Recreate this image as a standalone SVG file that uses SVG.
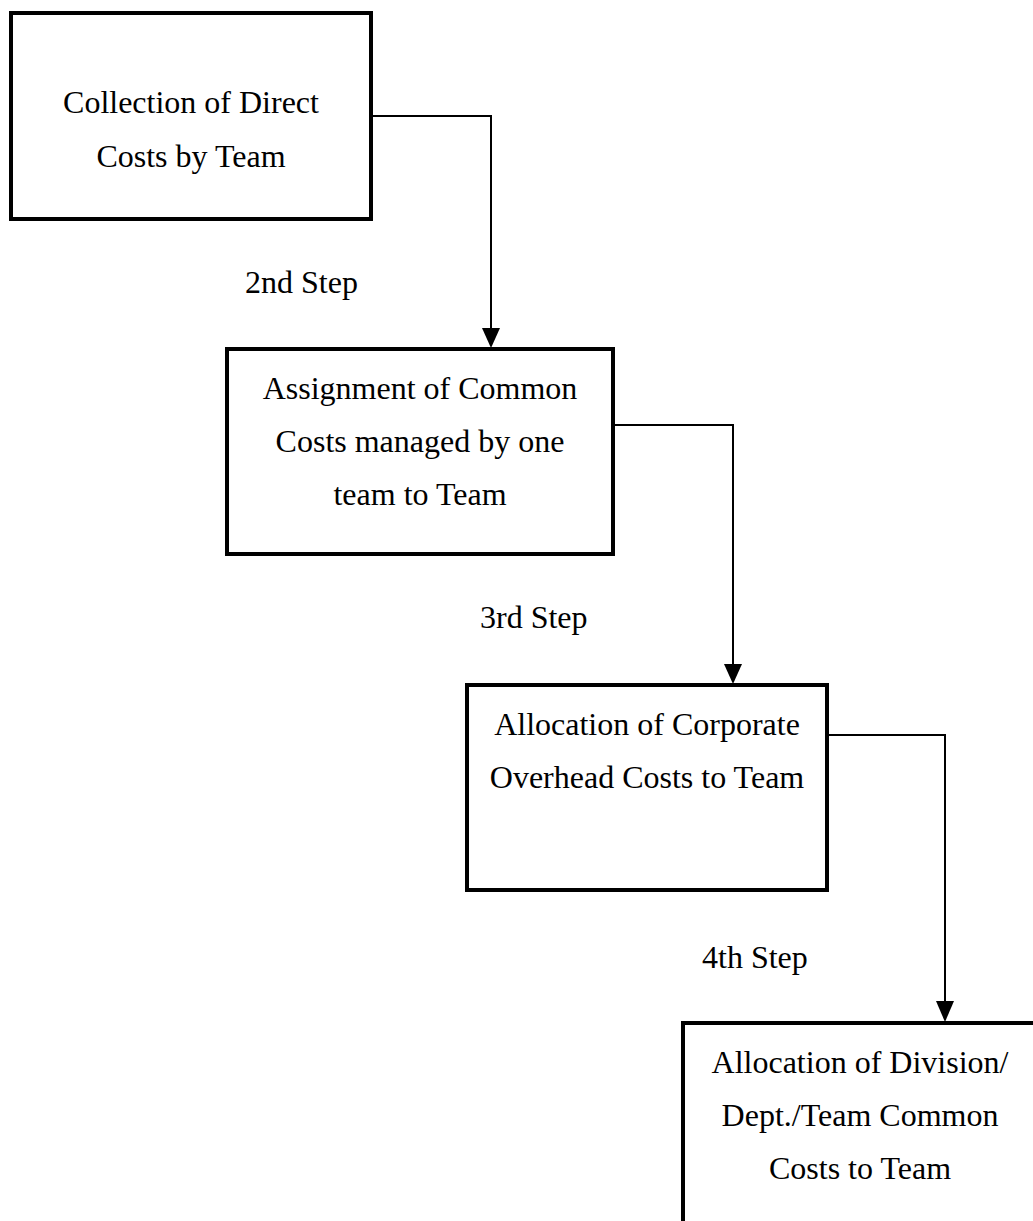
<svg xmlns="http://www.w3.org/2000/svg" width="1033" height="1221" viewBox="0 0 1033 1221">
<defs>
<style>
.box{fill:#fff;stroke:#000;stroke-width:4}
.t{font-family:"Liberation Serif","Times New Roman",serif;font-size:32px;fill:#000;text-anchor:middle}
.lbl{font-family:"Liberation Serif","Times New Roman",serif;font-size:32px;fill:#000}
.c{fill:none;stroke:#000;stroke-width:2}
.ah{fill:#000}
</style>
</defs>
<rect width="1033" height="1221" fill="#fff"/>
<g id="connectors">
<path class="c" d="M371,116 H491 V329"/>
<path class="ah" d="M482,328 L500,328 L491,348 Z"/>
<path class="c" d="M613,425 H733 V665"/>
<path class="ah" d="M724,664 L742,664 L733,684 Z"/>
<path class="c" d="M827,735 H945 V1002"/>
<path class="ah" d="M936,1001 L954,1001 L945,1022 Z"/>
</g>
<g id="node1">
<rect class="box" x="11" y="13" width="360" height="206"/>
<text class="t" x="191" y="113">Collection of Direct</text>
<text class="t" x="191" y="167">Costs by Team</text>
</g>
<g id="node2">
<rect class="box" x="227" y="349" width="386" height="205"/>
<text class="t" x="420" y="399">Assignment of Common</text>
<text class="t" x="420" y="452">Costs managed by one</text>
<text class="t" x="420" y="505">team to Team</text>
</g>
<g id="node3">
<rect class="box" x="467" y="685" width="360" height="205"/>
<text class="t" x="647" y="735">Allocation of Corporate</text>
<text class="t" x="647" y="788">Overhead Costs to Team</text>
</g>
<g id="node4">
<rect class="box" x="683" y="1023" width="420" height="260"/>
<text class="t" x="860" y="1073">Allocation of Division/</text>
<text class="t" x="860" y="1126">Dept./Team Common</text>
<text class="t" x="860" y="1179">Costs to Team</text>
</g>
<g id="labels">
<text class="lbl" x="245" y="293">2nd Step</text>
<text class="lbl" x="480" y="628">3rd Step</text>
<text class="lbl" x="702" y="968">4th Step</text>
</g>
</svg>
